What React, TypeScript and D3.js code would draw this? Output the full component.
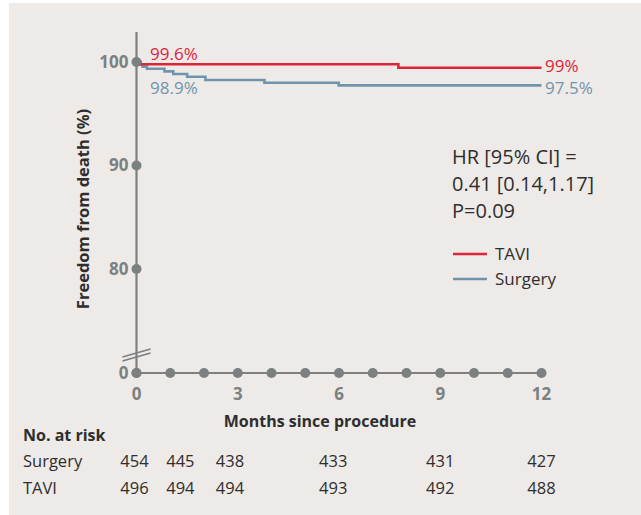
import React from "react";
import * as d3 from "d3";

const monthDots = [0, 1, 2, 3, 4, 5, 6, 7, 8, 9, 10, 11, 12];
const monthLabels = [0, 3, 6, 9, 12];
const yTicks = [0, 80, 90, 100];

const taviTimes = [0, 0.12, 7.76, 12];
const taviSurv = [100, 99.78, 99.45, 99.45];

const surgeryTimes = [0, 0.06, 0.18, 0.31, 0.83, 1.09, 1.5, 2.04, 3.79, 5.99, 12];
const surgerySurv = [100, 99.75, 99.55, 99.35, 99.09, 98.84, 98.58, 98.26, 98.0, 97.74, 97.74];

const riskMonths = [-0.06, 1.3, 2.77, 5.83, 9, 12];
const surgeryRisk = [454, 445, 438, 433, 431, 427];
const taviRisk = [496, 494, 494, 493, 492, 488];

const RED = "#dd2438";
const BLUE = "#6f95ae";
const GREY = "#7b8180";
const TEXT = "#2e2e2e";
const FONT = "'Open Sans', 'Noto Sans', sans-serif";

export default function App() {
  const x = d3.scaleLinear().domain([0, 12]).range([136.5, 541.5]);
  const y = d3.scaleLinear().domain([0, 80, 100]).range([373, 269, 62]);

  const line = d3
    .line<[number, number]>()
    .x((d) => x(d[0]))
    .y((d) => y(d[1]))
    .curve(d3.curveStepAfter);

  const taviPts = taviTimes.map((t, i) => [t, taviSurv[i]] as [number, number]);
  const surgPts = surgeryTimes.map((t, i) => [t, surgerySurv[i]] as [number, number]);

  const bx = x(0);
  const by = 352;

  return (
    <svg
      width={641}
      height={515}
      style={{ position: "absolute", left: 0, top: 0 }}
      fontFamily={FONT}
    >
      <rect x={9} y={3} width={632} height={512} fill="#eeeae7" />

      {/* axes */}
      <line x1={x(0)} x2={x(0)} y1={32} y2={y(0)} stroke={GREY} strokeWidth={2.2} />
      <line x1={x(0)} x2={x(12)} y1={y(0)} y2={y(0)} stroke={GREY} strokeWidth={2.2} />

      {/* axis break */}
      <line x1={bx - 14} y1={by + 5} x2={bx + 14} y2={by - 3} stroke={GREY} strokeWidth={1.8} />
      <line x1={bx - 14} y1={by + 9} x2={bx + 14} y2={by + 1} stroke={GREY} strokeWidth={1.8} />

      {/* curves */}
      <path d={line(surgPts) || ""} fill="none" stroke={BLUE} strokeWidth={2.6} />
      <path d={line(taviPts) || ""} fill="none" stroke={RED} strokeWidth={2.6} />

      {/* y ticks */}
      {yTicks.map((v) => (
        <g key={"y" + v}>
          <circle cx={x(0)} cy={y(v)} r={5} fill={GREY} />
          <text
            x={x(0) - 8}
            y={y(v)}
            dy="0.35em"
            textAnchor="end"
            fontSize={17}
            fontWeight={700}
            fill={GREY}
          >
            {v}
          </text>
        </g>
      ))}

      {/* x dots */}
      {monthDots.map((m) => (
        <circle key={"xd" + m} cx={x(m)} cy={y(0)} r={5} fill={GREY} />
      ))}
      {monthLabels.map((m) => (
        <text
          key={"xl" + m}
          x={x(m)}
          y={400}
          textAnchor="middle"
          fontSize={17}
          fontWeight={700}
          fill={GREY}
        >
          {m}
        </text>
      ))}

      {/* axis titles */}
      <text
        transform={`translate(89,209) rotate(-90)`}
        textAnchor="middle"
        fontSize={16.5}
        fontWeight={700}
        fill={TEXT}
      >
        Freedom from death (%)
      </text>
      <text x={320} y={427} textAnchor="middle" fontSize={16} fontWeight={700} fill={TEXT}>
        Months since procedure
      </text>

      {/* curve labels */}
      <text x={150} y={59.5} fontSize={17} fill={RED}>99.6%</text>
      <text x={150} y={93.5} fontSize={17} fill={BLUE}>98.9%</text>
      <text x={545} y={71.5} fontSize={17} fill={RED}>99%</text>
      <text x={545} y={93.5} fontSize={17} fill={BLUE}>97.5%</text>

      {/* stats */}
      <text x={452} y={164} fontSize={20} fill={TEXT}>HR [95% CI] =</text>
      <text x={452} y={191} fontSize={20} fill={TEXT}>0.41 [0.14,1.17]</text>
      <text x={452} y={217.5} fontSize={20} fill={TEXT}>P=0.09</text>

      {/* legend */}
      <line x1={453} x2={487} y1={254} y2={254} stroke={RED} strokeWidth={2.6} />
      <text x={495} y={259.5} fontSize={17} fill={TEXT}>TAVI</text>
      <line x1={453} x2={487} y1={279} y2={279} stroke={BLUE} strokeWidth={2.6} />
      <text x={495} y={284.5} fontSize={17} fill={TEXT}>Surgery</text>

      {/* risk table */}
      <text x={23} y={441} fontSize={16} fontWeight={700} fill={TEXT}>No. at risk</text>
      <text x={23} y={467} fontSize={16.5} fill={TEXT}>Surgery</text>
      <text x={23} y={494} fontSize={16.5} fill={TEXT}>TAVI</text>
      {riskMonths.map((m, i) => (
        <g key={"r" + i}>
          <text x={x(m)} y={467} textAnchor="middle" fontSize={16.5} fill={TEXT}>
            {surgeryRisk[i]}
          </text>
          <text x={x(m)} y={494} textAnchor="middle" fontSize={16.5} fill={TEXT}>
            {taviRisk[i]}
          </text>
        </g>
      ))}
    </svg>
  );
}
